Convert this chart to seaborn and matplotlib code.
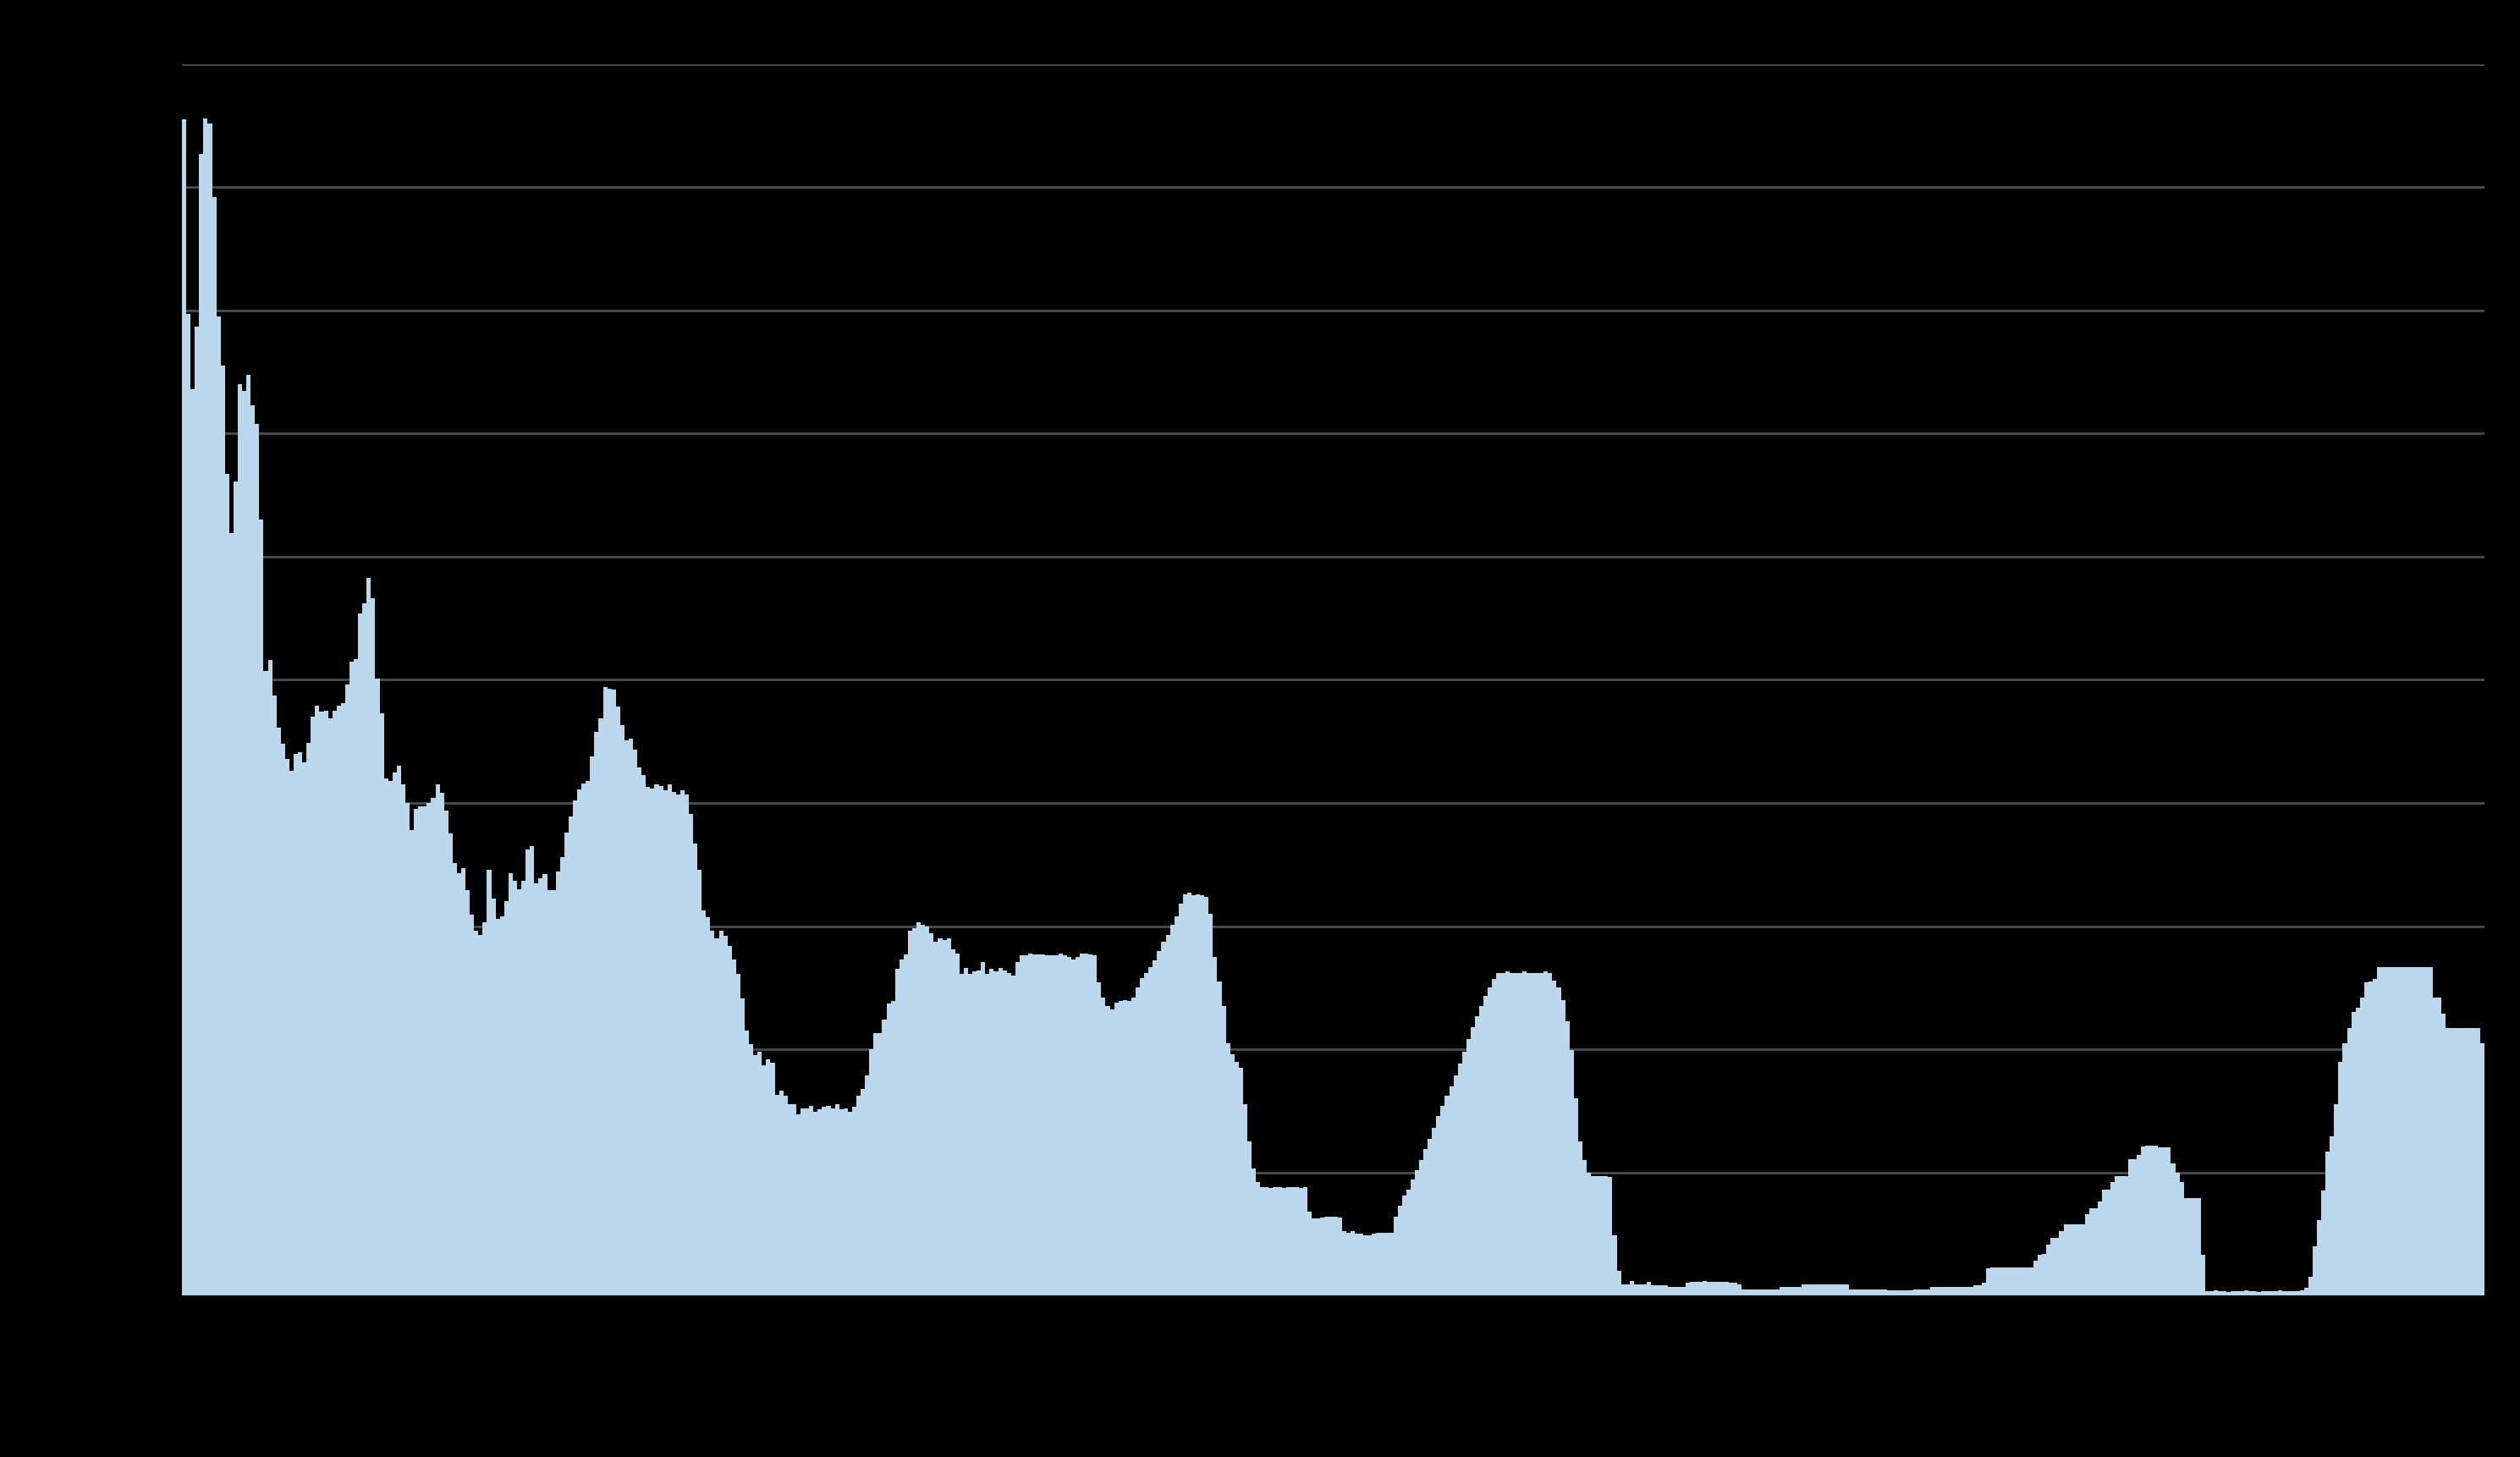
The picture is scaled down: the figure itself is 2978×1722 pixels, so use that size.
"""
Barras diárias com grade horizontal, fundo preto
"""

import pandas as pd
import seaborn as sns
import matplotlib.pyplot as plt


# Valores (uma linha de grade = 10)
pico_inicial = [95.5, 79.7, 73.6, 78.7, 92.7, 95.6, 95.2, 89.2, 79.5, 75.5,
                66.7, 61.9, 66.1, 74.0, 73.5, 74.8, 72.3, 70.8, 63.0, 50.7,
                51.6]

onda_1 = [48.7, 46.1, 44.8, 43.6, 42.6, 44.0, 44.1, 43.3, 44.9, 47.0,
          47.9, 47.4, 47.5, 46.9, 47.5, 47.9, 48.1, 49.6, 51.5, 51.7,
          55.4, 56.2, 58.3, 56.6, 50.1, 47.3, 42.0, 41.8, 42.5, 43.0,
          41.5, 40.0, 37.8, 39.5, 39.7, 39.7, 40.0, 40.4, 41.5]

onda_2 = [40.8, 39.4, 37.5, 35.1, 34.3, 34.7, 32.9, 30.9, 29.6, 29.3,
          30.3, 34.6, 32.2, 30.6, 30.8, 32.0, 34.3, 33.7, 33.0, 33.7,
          36.2, 36.5, 33.5, 33.9, 34.2, 32.9, 32.9, 34.4, 35.6, 37.6,
          38.9, 40.2, 41.1, 41.6, 41.8, 43.8, 45.8, 46.9, 49.4, 49.3,
          49.2, 47.8, 46.3, 45.1, 45.2, 44.3, 42.9, 42.3, 41.3, 41.2,
          41.5, 41.4, 41.0, 41.5, 40.9, 40.7, 41.0, 40.7, 39.1, 36.7,
          34.6, 31.3, 30.7, 29.6, 29.0, 29.6, 29.2, 28.4, 27.3, 26.1,
          24.1]

vale = [21.5, 20.4, 19.5, 19.8, 18.7, 19.2, 18.9, 16.3, 16.6, 16.2,
        15.5, 15.5, 14.7, 15.2, 15.2, 15.4, 14.9, 15.1, 15.3, 15.4,
        15.2, 15.5, 15.1, 15.2, 14.9, 15.3, 16.2, 16.8, 17.9, 20.0,
        21.3, 21.3, 22.4, 23.7, 23.9, 26.5, 27.3, 27.7, 29.6, 29.8,
        30.3, 30.1, 30.0, 29.4, 28.7, 29.0, 28.9]

patamar = [29.0, 28.1, 27.8, 26.1, 26.6, 26.1, 26.3, 26.4, 27.1, 26.1,
           26.5, 26.3, 26.6, 26.4, 26.2, 26.0, 27.1, 27.6, 27.6, 27.8,
           27.7, 27.7, 27.7, 27.6, 27.6, 27.6, 27.8, 27.6, 27.5, 27.3,
           27.5, 27.8, 27.8, 27.7, 27.6, 25.4, 24.2, 23.5, 23.2, 23.8]

onda_3 = [23.9, 24.0, 23.9, 24.2, 25.0, 25.8, 26.2, 26.7, 27.2, 28.0,
          28.7, 29.3, 30.1, 30.8, 31.8, 32.6, 32.7, 32.5, 32.6, 32.5,
          32.4, 31.0, 27.5, 25.5, 23.5, 20.5, 19.6, 19.0, 18.5, 15.5,
          12.5, 10.3, 9.2, 8.8, 8.8, 8.7, 8.8, 8.8, 8.7, 8.8,
          8.8, 8.8, 8.7, 8.8]

degrau = [6.8, 6.25, 6.25, 6.3, 6.4, 6.4, 6.4, 6.3, 5.2, 5.1,
          5.2, 5.0, 5.0, 4.9, 4.9, 5.0, 5.1, 5.1, 5.1, 5.1,
          6.4, 7.3, 8.1]

onda_4 = [8.6, 9.4, 10.2, 11.0, 11.9, 12.7, 13.6, 14.6, 15.4, 16.2,
          17.0, 17.9, 18.8, 19.8, 20.8, 21.8, 22.7, 23.5, 24.3, 25.0,
          25.7, 26.2, 26.2, 26.3, 26.2, 26.2, 26.2, 26.3, 26.2, 26.2,
          26.2, 26.2, 26.3, 26.2, 25.6, 25.0, 24.0, 22.3, 19.9, 16.0,
          12.5, 11.0, 10.0, 9.7, 9.7, 9.7, 9.7, 9.6, 4.9, 2.0]

baixa = [0.9, 0.9, 1.2, 0.9, 0.9, 0.9, 1.1, 0.8, 0.8, 0.8,
         0.8, 0.7, 0.7, 0.7, 0.7, 1.0, 1.1, 1.1, 1.1, 1.2,
         1.1, 1.1, 1.1, 1.1, 1.1, 1.0, 1.0, 0.9, 0.5, 0.5,
         0.5, 0.5, 0.5, 0.5, 0.5, 0.5, 0.5, 0.7, 0.7, 0.7,
         0.7, 0.7, 0.9, 0.9, 0.9, 0.9, 0.9, 0.9, 0.9, 0.9,
         0.9, 0.9, 0.9, 0.5, 0.5, 0.5, 0.5, 0.5, 0.5, 0.5,
         0.5, 0.5, 0.4, 0.4, 0.4, 0.4, 0.4, 0.4, 0.5, 0.5,
         0.5, 0.5, 0.7, 0.7, 0.7, 0.7, 0.7, 0.7, 0.7, 0.7,
         0.7, 0.7, 0.8, 0.8, 1.0, 2.2]

onda_5 = [2.3, 2.3, 2.3, 2.3, 2.3, 2.3, 2.3, 2.3, 2.3, 2.3,
          2.8, 3.3, 3.4, 4.1, 4.7, 4.7, 5.2, 5.8, 5.8, 5.8,
          5.8, 5.8, 6.6, 7.1, 7.1, 7.6, 8.6, 8.6, 9.2, 9.7,
          9.7, 9.7, 11.1, 11.1, 11.4, 12.1, 12.2, 12.2, 12.2, 12.0,
          12.0, 12.0, 10.7, 10.0, 9.2, 7.9, 7.9, 7.9, 7.9, 3.3]

intervalo = [0.35, 0.35, 0.4, 0.35, 0.35, 0.3, 0.35, 0.35, 0.35, 0.4,
             0.35, 0.35, 0.3, 0.35, 0.35, 0.35, 0.35, 0.4, 0.35, 0.35,
             0.35, 0.35, 0.4, 0.6, 1.5]

onda_final = [4.0, 6.1, 8.5, 11.7, 12.9, 15.5, 19.0, 20.5, 21.7, 23.0,
              23.4, 24.2, 25.4, 25.5, 25.7, 26.7, 26.7, 26.7, 26.7, 26.7,
              26.7, 26.7, 26.7, 26.7, 26.7, 26.7, 26.7, 26.7, 24.2, 24.2,
              22.9, 21.7, 21.7, 21.7, 21.7, 21.7, 21.7, 21.7, 21.7, 20.5]

valores = (pico_inicial + onda_1 + onda_2 + vale + patamar + onda_3 + degrau
           + onda_4 + baixa + onda_5 + intervalo + onda_final)
dias = list(range(len(valores)))
ticks_y = [0, 10, 20, 30, 40, 50, 60, 70, 80, 90, 100]

df = pd.DataFrame({'dia': dias, 'valor': valores})

# Montar o gráfico
fig = plt.figure(figsize=(14.89, 8.61), dpi=200, facecolor='black')
ax = fig.add_axes([0.0722, 0.1109, 0.9137, 0.845])
ax.set_facecolor('black')
sns.barplot(data=df, x='dia', y='valor', color='#bcd6ec', saturation=1,
            width=1, linewidth=0, errorbar=None, ax=ax)

ax.set_ylim(0, 100)
ax.set_yticks(ticks_y)
# rótulos pretos sobre fundo preto, como no original
ax.set_yticklabels([str(t) for t in ticks_y], color='black', fontsize=11)
ax.set_xticks([])
ax.set_xlabel('')
ax.set_ylabel('')
ax.yaxis.grid(True, color='#4d4d4d', linewidth=1.0)
ax.xaxis.grid(False)
ax.set_axisbelow(True)
ax.tick_params(length=0)
for s in ax.spines.values():
    s.set_visible(False)

plt.savefig('out.png', dpi=200, facecolor='black')
